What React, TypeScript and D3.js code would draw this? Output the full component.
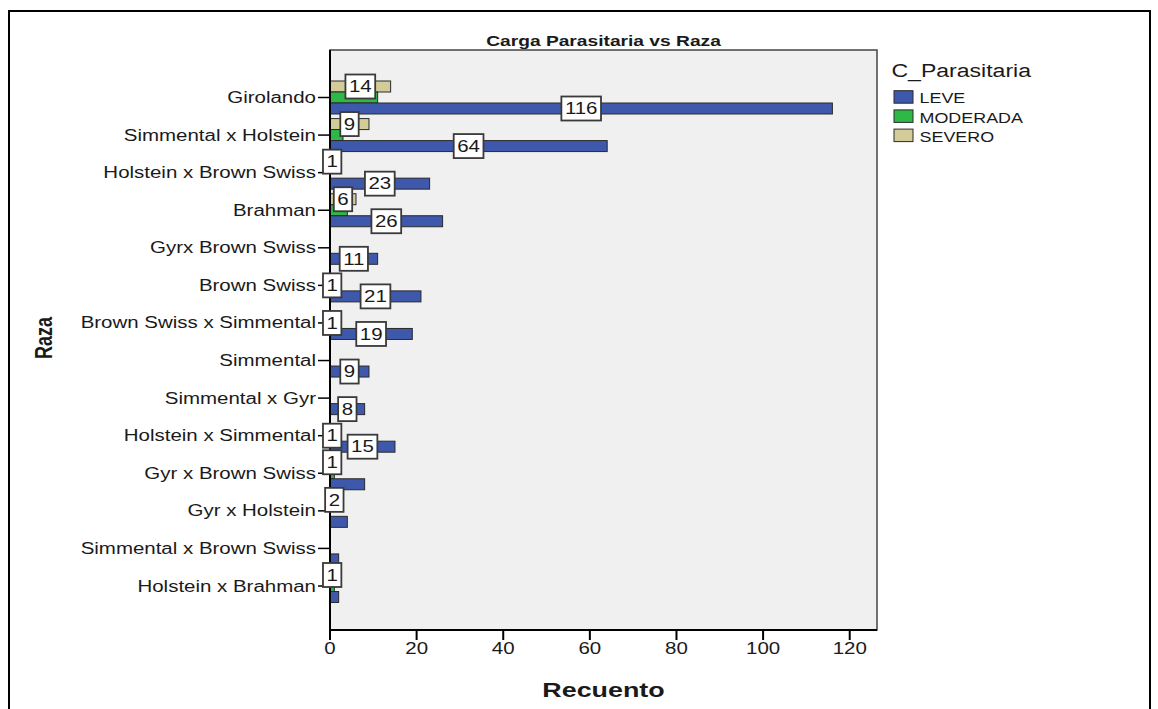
import React, { useEffect, useRef } from "react";
import * as d3 from "d3";

const categories = [
  "Girolando",
  "Simmental x Holstein",
  "Holstein x Brown Swiss",
  "Brahman",
  "Gyrx Brown Swiss",
  "Brown Swiss",
  "Brown Swiss x Simmental",
  "Simmental",
  "Simmental x Gyr",
  "Holstein x Simmental",
  "Gyr x Brown Swiss",
  "Gyr x Holstein",
  "Simmental x Brown Swiss",
  "Holstein x Brahman",
];
const leve = [116, 64, 23, 26, 11, 21, 19, 9, 8, 15, 8, 4, 2, 2];
const moderada = [11, 3, 0, 4, 0, 1, 1, 0, 0, 1, 1, 0, 0, 1];
const severo = [14, 9, 1, 6, 0, 0, 0, 0, 0, 0, 1, 2, 0, 1];
const seriesNames = ["LEVE", "MODERADA", "SEVERO"];
const seriesColors = ["#3E58AC", "#2EB848", "#D4CC98"];
const xTicks = [0, 20, 40, 60, 80, 100, 120];
const xMax = 126.3;
const title = "Carga Parasitaria vs Raza";
const xTitle = "Recuento";
const yTitle = "Raza";
const legendTitle = "C_Parasitaria";

const FONT = "'Liberation Sans', Arial, sans-serif";
const SX = 1.28;

export default function App() {
  const ref = useRef<SVGSVGElement>(null);
  useEffect(() => {
    const svg = d3.select(ref.current);
    svg.selectAll("*").remove();
    const plot = { l: 330, t: 50, r: 877, b: 630 };
    const x = d3.scaleLinear().domain([0, xMax]).range([plot.l, plot.r]);
    const y = d3
      .scalePoint<string>()
      .domain(categories)
      .range([plot.t + 47.5, plot.b - 44]);
    const inner = d3
      .scaleBand<string>()
      .domain(["SEVERO", "MODERADA", "LEVE"])
      .range([-16.5, 16.5]);

    const seriesVals: Record<string, number[]> = {
      LEVE: leve,
      MODERADA: moderada,
      SEVERO: severo,
    };
    const colorOf = (s: string) => seriesColors[seriesNames.indexOf(s)];

    const stext = (
      g: any,
      tx: number,
      ty: number,
      str: string,
      size: number,
      anchor: string,
      weight = "normal",
      rot = 0,
      fill = "#1a1a1a"
    ) =>
      g
        .append("text")
        .attr(
          "transform",
          `translate(${tx},${ty}) scale(${SX},1)` + (rot ? ` rotate(${rot})` : "")
        )
        .attr("text-anchor", anchor)
        .attr("font-family", FONT)
        .attr("font-size", size)
        .attr("font-weight", weight)
        .attr("fill", fill)
        .text(str);

    // outer frame
    svg
      .append("rect")
      .attr("x", 9)
      .attr("y", 11)
      .attr("width", 1141)
      .attr("height", 720)
      .attr("fill", "#fff")
      .attr("stroke", "#000")
      .attr("stroke-width", 2);

    // plot background
    svg
      .append("rect")
      .attr("x", plot.l)
      .attr("y", plot.t)
      .attr("width", plot.r - plot.l)
      .attr("height", plot.b - plot.t)
      .attr("fill", "#F0F0F0")
      .attr("stroke", "#444")
      .attr("stroke-width", 1.5);

    // title
    stext(svg, (plot.l + plot.r) / 2, 46, title, 15, "middle", "bold");

    // bars
    const gBars = svg.append("g");
    ["SEVERO", "MODERADA", "LEVE"].forEach((s) => {
      seriesVals[s].forEach((v, i) => {
        if (!v) return;
        const c = categories[i];
        gBars
          .append("rect")
          .attr("x", x(0))
          .attr("y", (y(c) as number) + (inner(s) as number))
          .attr("width", x(v) - x(0))
          .attr("height", inner.bandwidth())
          .attr("fill", colorOf(s))
          .attr("stroke", "#2a2a2a")
          .attr("stroke-width", 1);
      });
    });

    // y axis
    const gY = svg.append("g");
    gY.append("line")
      .attr("x1", plot.l)
      .attr("x2", plot.l)
      .attr("y1", plot.t)
      .attr("y2", plot.b)
      .attr("stroke", "#000")
      .attr("stroke-width", 2);
    categories.forEach((c) => {
      const yy = y(c) as number;
      gY.append("line")
        .attr("x1", plot.l - 12)
        .attr("x2", plot.l)
        .attr("y1", yy)
        .attr("y2", yy)
        .attr("stroke", "#000")
        .attr("stroke-width", 1.5);
      stext(gY, plot.l - 14, yy + 5.5, c, 16, "end");
    });

    // x axis
    const gX = svg.append("g");
    gX.append("line")
      .attr("x1", plot.l)
      .attr("x2", plot.r)
      .attr("y1", plot.b)
      .attr("y2", plot.b)
      .attr("stroke", "#000")
      .attr("stroke-width", 2);
    xTicks.forEach((t) => {
      gX.append("line")
        .attr("x1", x(t))
        .attr("x2", x(t))
        .attr("y1", plot.b)
        .attr("y2", plot.b + 10)
        .attr("stroke", "#000")
        .attr("stroke-width", 2);
      stext(gX, x(t), plot.b + 24, String(t), 16, "middle");
    });

    // axis titles
    stext(svg, (plot.l + plot.r) / 2, 697, xTitle, 21, "middle", "bold");
    stext(svg, 52, 338, yTitle, 18, "middle", "bold", -90);

    // bar labels with overlap hiding (SEVERO, MODERADA, LEVE order)
    const gLab = svg.append("g");
    const placed: { x0: number; x1: number; y0: number; y1: number }[] = [];
    ["SEVERO", "MODERADA", "LEVE"].forEach((s) => {
      seriesVals[s].forEach((v, i) => {
        if (!v) return;
        const c = categories[i];
        const cx = (x(0) + x(v)) / 2;
        const cy = (y(c) as number) + (inner(s) as number) + inner.bandwidth() / 2;
        const g = gLab.append("g");
        const t = stext(g, cx, cy + 5.8, String(v), 16, "middle");
        const tw = (t.node() as SVGTextElement).getComputedTextLength() * SX;
        const bw = tw + 7;
        const bh = 24;
        const box = { x0: cx - bw / 2, x1: cx + bw / 2, y0: cy - bh / 2, y1: cy + bh / 2 };
        const hit = placed.some(
          (p) => box.x0 < p.x1 && box.x1 > p.x0 && box.y0 < p.y1 && box.y1 > p.y0
        );
        if (hit) {
          g.remove();
          return;
        }
        placed.push(box);
        g.insert("rect", "text")
          .attr("x", box.x0)
          .attr("y", box.y0)
          .attr("width", bw)
          .attr("height", bh)
          .attr("fill", "#fff")
          .attr("stroke", "#3a3a3a")
          .attr("stroke-width", 1.8);
      });
    });

    // legend
    const gL = svg.append("g");
    stext(gL, 891.5, 76.7, legendTitle, 18, "start");
    seriesNames.forEach((s, i) => {
      const top = 90.7 + i * 19.2;
      gL.append("rect")
        .attr("x", 894)
        .attr("y", top)
        .attr("width", 19)
        .attr("height", 12.5)
        .attr("fill", seriesColors[i])
        .attr("stroke", "#2a2a2a")
        .attr("stroke-width", 1);
      stext(gL, 919.5, top + 12.6, s, 14, "start");
    });
  }, []);
  return (
    <svg
      ref={ref}
      width={1158}
      height={709}
      style={{ position: "absolute", left: 0, top: 0, background: "#fff" }}
    />
  );
}
